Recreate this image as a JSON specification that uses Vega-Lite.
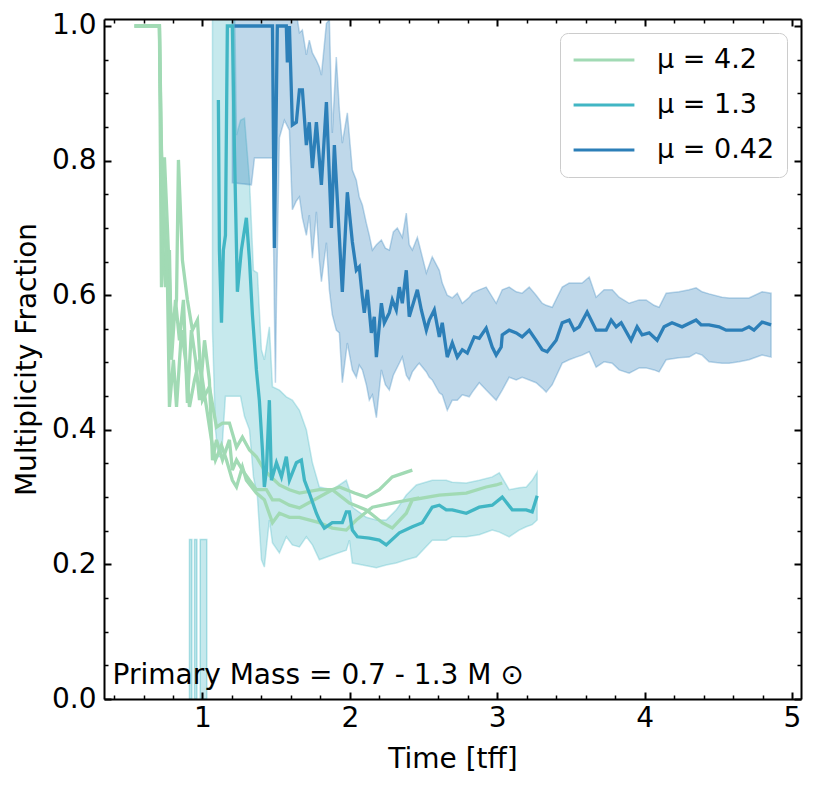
{
  "$schema": "https://vega.github.io/schema/vega-lite/v6.json",
  "width": 697,
  "height": 680,
  "autosize": {"type": "none"},
  "padding": {"left": 104, "top": 19, "right": 18, "bottom": 89},
  "config": {"view": {"stroke": null}, "font": "DejaVu Sans"},
  "resolve": {"axis": {"x": "independent", "y": "independent"}},
  "datasets": {
    "lines": [
      {"mu":"μ = 4.2","run":"g1","t":0.539,"f":1.0},{"mu":"μ = 4.2","run":"g1","t":0.708,"f":1.0},{"mu":"μ = 4.2","run":"g1","t":0.722,"f":0.612},{"mu":"μ = 4.2","run":"g1","t":0.742,"f":0.805},{"mu":"μ = 4.2","run":"g1","t":0.763,"f":0.697},{"mu":"μ = 4.2","run":"g1","t":0.790,"f":0.548},{"mu":"μ = 4.2","run":"g1","t":0.824,"f":0.593},{"mu":"μ = 4.2","run":"g1","t":0.837,"f":0.801},{"mu":"μ = 4.2","run":"g1","t":0.864,"f":0.652},{"mu":"μ = 4.2","run":"g1","t":0.898,"f":0.593},{"mu":"μ = 4.2","run":"g1","t":0.932,"f":0.548},{"mu":"μ = 4.2","run":"g1","t":0.966,"f":0.563},{"mu":"μ = 4.2","run":"g1","t":1.000,"f":0.444},{"mu":"μ = 4.2","run":"g1","t":1.047,"f":0.464},{"mu":"μ = 4.2","run":"g1","t":1.095,"f":0.404},{"mu":"μ = 4.2","run":"g1","t":1.136,"f":0.410},{"mu":"μ = 4.2","run":"g1","t":1.183,"f":0.410},{"mu":"μ = 4.2","run":"g1","t":1.231,"f":0.374},{"mu":"μ = 4.2","run":"g1","t":1.271,"f":0.389},{"mu":"μ = 4.2","run":"g1","t":1.319,"f":0.370},{"mu":"μ = 4.2","run":"g1","t":1.366,"f":0.360},{"mu":"μ = 4.2","run":"g1","t":1.420,"f":0.340},{"mu":"μ = 4.2","run":"g1","t":1.475,"f":0.328},{"mu":"μ = 4.2","run":"g1","t":1.522,"f":0.318},{"mu":"μ = 4.2","run":"g1","t":1.590,"f":0.311},{"mu":"μ = 4.2","run":"g1","t":1.658,"f":0.306},{"mu":"μ = 4.2","run":"g1","t":1.793,"f":0.311},{"mu":"μ = 4.2","run":"g1","t":1.881,"f":0.311},{"mu":"μ = 4.2","run":"g1","t":1.929,"f":0.315},{"mu":"μ = 4.2","run":"g1","t":2.031,"f":0.306},{"mu":"μ = 4.2","run":"g1","t":2.112,"f":0.300},{"mu":"μ = 4.2","run":"g1","t":2.200,"f":0.311},{"mu":"μ = 4.2","run":"g1","t":2.288,"f":0.330},{"mu":"μ = 4.2","run":"g1","t":2.369,"f":0.336},{"mu":"μ = 4.2","run":"g1","t":2.424,"f":0.340},
      {"mu":"μ = 4.2","run":"g2","t":0.539,"f":1.0},{"mu":"μ = 4.2","run":"g2","t":0.708,"f":1.0},{"mu":"μ = 4.2","run":"g2","t":0.729,"f":0.682},{"mu":"μ = 4.2","run":"g2","t":0.749,"f":0.612},{"mu":"μ = 4.2","run":"g2","t":0.776,"f":0.667},{"mu":"μ = 4.2","run":"g2","t":0.790,"f":0.504},{"mu":"μ = 4.2","run":"g2","t":0.817,"f":0.593},{"mu":"μ = 4.2","run":"g2","t":0.844,"f":0.533},{"mu":"μ = 4.2","run":"g2","t":0.871,"f":0.593},{"mu":"μ = 4.2","run":"g2","t":0.898,"f":0.440},{"mu":"μ = 4.2","run":"g2","t":0.925,"f":0.548},{"mu":"μ = 4.2","run":"g2","t":0.953,"f":0.504},{"mu":"μ = 4.2","run":"g2","t":0.980,"f":0.444},{"mu":"μ = 4.2","run":"g2","t":1.014,"f":0.533},{"mu":"μ = 4.2","run":"g2","t":1.047,"f":0.474},{"mu":"μ = 4.2","run":"g2","t":1.068,"f":0.355},{"mu":"μ = 4.2","run":"g2","t":1.095,"f":0.385},{"mu":"μ = 4.2","run":"g2","t":1.136,"f":0.355},{"mu":"μ = 4.2","run":"g2","t":1.183,"f":0.385},{"mu":"μ = 4.2","run":"g2","t":1.203,"f":0.340},{"mu":"μ = 4.2","run":"g2","t":1.231,"f":0.355},{"mu":"μ = 4.2","run":"g2","t":1.271,"f":0.340},{"mu":"μ = 4.2","run":"g2","t":1.319,"f":0.325},{"mu":"μ = 4.2","run":"g2","t":1.366,"f":0.311},{"mu":"μ = 4.2","run":"g2","t":1.434,"f":0.311},{"mu":"μ = 4.2","run":"g2","t":1.475,"f":0.296},{"mu":"μ = 4.2","run":"g2","t":1.522,"f":0.296},{"mu":"μ = 4.2","run":"g2","t":1.590,"f":0.288},{"mu":"μ = 4.2","run":"g2","t":1.658,"f":0.284},{"mu":"μ = 4.2","run":"g2","t":1.759,"f":0.296},{"mu":"μ = 4.2","run":"g2","t":1.881,"f":0.311},{"mu":"μ = 4.2","run":"g2","t":1.997,"f":0.291},{"mu":"μ = 4.2","run":"g2","t":2.112,"f":0.281},{"mu":"μ = 4.2","run":"g2","t":2.220,"f":0.262},{"mu":"μ = 4.2","run":"g2","t":2.288,"f":0.254},{"mu":"μ = 4.2","run":"g2","t":2.383,"f":0.276},{"mu":"μ = 4.2","run":"g2","t":2.424,"f":0.296},{"mu":"μ = 4.2","run":"g2","t":2.607,"f":0.303},{"mu":"μ = 4.2","run":"g2","t":2.790,"f":0.306},{"mu":"μ = 4.2","run":"g2","t":2.925,"f":0.315},{"mu":"μ = 4.2","run":"g2","t":2.993,"f":0.318},{"mu":"μ = 4.2","run":"g2","t":3.034,"f":0.321},
      {"mu":"μ = 4.2","run":"g3","t":0.539,"f":1.0},{"mu":"μ = 4.2","run":"g3","t":0.708,"f":1.0},{"mu":"μ = 4.2","run":"g3","t":0.722,"f":0.816},{"mu":"μ = 4.2","run":"g3","t":0.736,"f":0.741},{"mu":"μ = 4.2","run":"g3","t":0.763,"f":0.612},{"mu":"μ = 4.2","run":"g3","t":0.776,"f":0.434},{"mu":"μ = 4.2","run":"g3","t":0.803,"f":0.504},{"mu":"μ = 4.2","run":"g3","t":0.824,"f":0.434},{"mu":"μ = 4.2","run":"g3","t":0.858,"f":0.548},{"mu":"μ = 4.2","run":"g3","t":0.885,"f":0.504},{"mu":"μ = 4.2","run":"g3","t":0.912,"f":0.434},{"mu":"μ = 4.2","run":"g3","t":0.946,"f":0.474},{"mu":"μ = 4.2","run":"g3","t":0.980,"f":0.504},{"mu":"μ = 4.2","run":"g3","t":1.020,"f":0.444},{"mu":"μ = 4.2","run":"g3","t":1.061,"f":0.385},{"mu":"μ = 4.2","run":"g3","t":1.088,"f":0.355},{"mu":"μ = 4.2","run":"g3","t":1.129,"f":0.377},{"mu":"μ = 4.2","run":"g3","t":1.163,"f":0.355},{"mu":"μ = 4.2","run":"g3","t":1.203,"f":0.325},{"mu":"μ = 4.2","run":"g3","t":1.231,"f":0.315},{"mu":"μ = 4.2","run":"g3","t":1.271,"f":0.345},{"mu":"μ = 4.2","run":"g3","t":1.298,"f":0.325},{"mu":"μ = 4.2","run":"g3","t":1.366,"f":0.306},{"mu":"μ = 4.2","run":"g3","t":1.420,"f":0.296},{"mu":"μ = 4.2","run":"g3","t":1.475,"f":0.262},{"mu":"μ = 4.2","run":"g3","t":1.522,"f":0.276},{"mu":"μ = 4.2","run":"g3","t":1.590,"f":0.270},{"mu":"μ = 4.2","run":"g3","t":1.658,"f":0.270},{"mu":"μ = 4.2","run":"g3","t":1.793,"f":0.262},{"mu":"μ = 4.2","run":"g3","t":1.881,"f":0.254},{"mu":"μ = 4.2","run":"g3","t":1.976,"f":0.251},{"mu":"μ = 4.2","run":"g3","t":2.044,"f":0.266},{"mu":"μ = 4.2","run":"g3","t":2.153,"f":0.285},{"mu":"μ = 4.2","run":"g3","t":2.288,"f":0.291},{"mu":"μ = 4.2","run":"g3","t":2.403,"f":0.296},{"mu":"μ = 4.2","run":"g3","t":2.471,"f":0.299},
      {"mu":"μ = 1.3","run":"c","t":1.108,"f":0.890},{"mu":"μ = 1.3","run":"c","t":1.115,"f":0.667},{"mu":"μ = 1.3","run":"c","t":1.129,"f":0.559},{"mu":"μ = 1.3","run":"c","t":1.142,"f":0.667},{"mu":"μ = 1.3","run":"c","t":1.156,"f":0.689},{"mu":"μ = 1.3","run":"c","t":1.169,"f":1.0},{"mu":"μ = 1.3","run":"c","t":1.203,"f":1.0},{"mu":"μ = 1.3","run":"c","t":1.217,"f":0.816},{"mu":"μ = 1.3","run":"c","t":1.237,"f":0.605},{"mu":"μ = 1.3","run":"c","t":1.264,"f":0.667},{"mu":"μ = 1.3","run":"c","t":1.298,"f":0.715},{"mu":"μ = 1.3","run":"c","t":1.319,"f":0.652},{"mu":"μ = 1.3","run":"c","t":1.339,"f":0.571},{"mu":"μ = 1.3","run":"c","t":1.366,"f":0.489},{"mu":"μ = 1.3","run":"c","t":1.386,"f":0.444},{"mu":"μ = 1.3","run":"c","t":1.407,"f":0.370},{"mu":"μ = 1.3","run":"c","t":1.420,"f":0.315},{"mu":"μ = 1.3","run":"c","t":1.434,"f":0.340},{"mu":"μ = 1.3","run":"c","t":1.454,"f":0.444},{"mu":"μ = 1.3","run":"c","t":1.468,"f":0.325},{"mu":"μ = 1.3","run":"c","t":1.502,"f":0.351},{"mu":"μ = 1.3","run":"c","t":1.536,"f":0.330},{"mu":"μ = 1.3","run":"c","t":1.569,"f":0.360},{"mu":"μ = 1.3","run":"c","t":1.590,"f":0.325},{"mu":"μ = 1.3","run":"c","t":1.637,"f":0.351},{"mu":"μ = 1.3","run":"c","t":1.671,"f":0.355},{"mu":"μ = 1.3","run":"c","t":1.692,"f":0.325},{"mu":"μ = 1.3","run":"c","t":1.725,"f":0.306},{"mu":"μ = 1.3","run":"c","t":1.773,"f":0.276},{"mu":"μ = 1.3","run":"c","t":1.793,"f":0.266},{"mu":"μ = 1.3","run":"c","t":1.827,"f":0.254},{"mu":"μ = 1.3","run":"c","t":1.881,"f":0.262},{"mu":"μ = 1.3","run":"c","t":1.949,"f":0.262},{"mu":"μ = 1.3","run":"c","t":1.976,"f":0.278},{"mu":"μ = 1.3","run":"c","t":1.997,"f":0.278},{"mu":"μ = 1.3","run":"c","t":2.017,"f":0.251},{"mu":"μ = 1.3","run":"c","t":2.051,"f":0.241},{"mu":"μ = 1.3","run":"c","t":2.132,"f":0.239},{"mu":"μ = 1.3","run":"c","t":2.200,"f":0.236},{"mu":"μ = 1.3","run":"c","t":2.247,"f":0.229},{"mu":"μ = 1.3","run":"c","t":2.336,"f":0.247},{"mu":"μ = 1.3","run":"c","t":2.424,"f":0.256},{"mu":"μ = 1.3","run":"c","t":2.492,"f":0.262},{"mu":"μ = 1.3","run":"c","t":2.559,"f":0.285},{"mu":"μ = 1.3","run":"c","t":2.607,"f":0.288},{"mu":"μ = 1.3","run":"c","t":2.654,"f":0.281},{"mu":"μ = 1.3","run":"c","t":2.695,"f":0.281},{"mu":"μ = 1.3","run":"c","t":2.790,"f":0.276},{"mu":"μ = 1.3","run":"c","t":2.878,"f":0.285},{"mu":"μ = 1.3","run":"c","t":2.966,"f":0.288},{"mu":"μ = 1.3","run":"c","t":3.034,"f":0.300},{"mu":"μ = 1.3","run":"c","t":3.102,"f":0.281},{"mu":"μ = 1.3","run":"c","t":3.197,"f":0.281},{"mu":"μ = 1.3","run":"c","t":3.237,"f":0.278},{"mu":"μ = 1.3","run":"c","t":3.271,"f":0.302},
      {"mu":"μ = 0.42","run":"b","t":1.217,"f":1.0},{"mu":"μ = 0.42","run":"b","t":1.475,"f":1.0},{"mu":"μ = 0.42","run":"b","t":1.488,"f":0.670},{"mu":"μ = 0.42","run":"b","t":1.508,"f":1.0},{"mu":"μ = 0.42","run":"b","t":1.569,"f":1.0},{"mu":"μ = 0.42","run":"b","t":1.576,"f":0.946},{"mu":"μ = 0.42","run":"b","t":1.590,"f":1.0},{"mu":"μ = 0.42","run":"b","t":1.610,"f":0.853},{"mu":"μ = 0.42","run":"b","t":1.637,"f":0.857},{"mu":"μ = 0.42","run":"b","t":1.658,"f":0.905},{"mu":"μ = 0.42","run":"b","t":1.678,"f":0.905},{"mu":"μ = 0.42","run":"b","t":1.705,"f":0.823},{"mu":"μ = 0.42","run":"b","t":1.725,"f":0.857},{"mu":"μ = 0.42","run":"b","t":1.746,"f":0.789},{"mu":"μ = 0.42","run":"b","t":1.773,"f":0.857},{"mu":"μ = 0.42","run":"b","t":1.807,"f":0.764},{"mu":"μ = 0.42","run":"b","t":1.841,"f":0.887},{"mu":"μ = 0.42","run":"b","t":1.875,"f":0.700},{"mu":"μ = 0.42","run":"b","t":1.895,"f":0.823},{"mu":"μ = 0.42","run":"b","t":1.949,"f":0.605},{"mu":"μ = 0.42","run":"b","t":1.983,"f":0.753},{"mu":"μ = 0.42","run":"b","t":2.017,"f":0.679},{"mu":"μ = 0.42","run":"b","t":2.044,"f":0.637},{"mu":"μ = 0.42","run":"b","t":2.064,"f":0.642},{"mu":"μ = 0.42","run":"b","t":2.085,"f":0.597},{"mu":"μ = 0.42","run":"b","t":2.098,"f":0.574},{"mu":"μ = 0.42","run":"b","t":2.119,"f":0.608},{"mu":"μ = 0.42","run":"b","t":2.146,"f":0.544},{"mu":"μ = 0.42","run":"b","t":2.166,"f":0.568},{"mu":"μ = 0.42","run":"b","t":2.180,"f":0.508},{"mu":"μ = 0.42","run":"b","t":2.214,"f":0.588},{"mu":"μ = 0.42","run":"b","t":2.234,"f":0.559},{"mu":"μ = 0.42","run":"b","t":2.268,"f":0.574},{"mu":"μ = 0.42","run":"b","t":2.288,"f":0.593},{"mu":"μ = 0.42","run":"b","t":2.315,"f":0.578},{"mu":"μ = 0.42","run":"b","t":2.336,"f":0.612},{"mu":"μ = 0.42","run":"b","t":2.356,"f":0.588},{"mu":"μ = 0.42","run":"b","t":2.383,"f":0.637},{"mu":"μ = 0.42","run":"b","t":2.403,"f":0.568},{"mu":"μ = 0.42","run":"b","t":2.458,"f":0.608},{"mu":"μ = 0.42","run":"b","t":2.485,"f":0.578},{"mu":"μ = 0.42","run":"b","t":2.519,"f":0.548},{"mu":"μ = 0.42","run":"b","t":2.539,"f":0.563},{"mu":"μ = 0.42","run":"b","t":2.573,"f":0.578},{"mu":"μ = 0.42","run":"b","t":2.607,"f":0.538},{"mu":"μ = 0.42","run":"b","t":2.627,"f":0.559},{"mu":"μ = 0.42","run":"b","t":2.661,"f":0.508},{"mu":"μ = 0.42","run":"b","t":2.695,"f":0.529},{"mu":"μ = 0.42","run":"b","t":2.729,"f":0.508},{"mu":"μ = 0.42","run":"b","t":2.763,"f":0.519},{"mu":"μ = 0.42","run":"b","t":2.797,"f":0.514},{"mu":"μ = 0.42","run":"b","t":2.844,"f":0.538},{"mu":"μ = 0.42","run":"b","t":2.878,"f":0.536},{"mu":"μ = 0.42","run":"b","t":2.925,"f":0.551},{"mu":"μ = 0.42","run":"b","t":2.966,"f":0.523},{"mu":"μ = 0.42","run":"b","t":2.993,"f":0.511},{"mu":"μ = 0.42","run":"b","t":3.027,"f":0.523},{"mu":"μ = 0.42","run":"b","t":3.034,"f":0.541},{"mu":"μ = 0.42","run":"b","t":3.081,"f":0.548},{"mu":"μ = 0.42","run":"b","t":3.129,"f":0.544},{"mu":"μ = 0.42","run":"b","t":3.169,"f":0.538},{"mu":"μ = 0.42","run":"b","t":3.217,"f":0.548},{"mu":"μ = 0.42","run":"b","t":3.264,"f":0.533},{"mu":"μ = 0.42","run":"b","t":3.305,"f":0.519},{"mu":"μ = 0.42","run":"b","t":3.339,"f":0.516},{"mu":"μ = 0.42","run":"b","t":3.400,"f":0.533},{"mu":"μ = 0.42","run":"b","t":3.441,"f":0.559},{"mu":"μ = 0.42","run":"b","t":3.488,"f":0.563},{"mu":"μ = 0.42","run":"b","t":3.522,"f":0.548},{"mu":"μ = 0.42","run":"b","t":3.556,"f":0.553},{"mu":"μ = 0.42","run":"b","t":3.610,"f":0.575},{"mu":"μ = 0.42","run":"b","t":3.671,"f":0.548},{"mu":"μ = 0.42","run":"b","t":3.739,"f":0.548},{"mu":"μ = 0.42","run":"b","t":3.773,"f":0.563},{"mu":"μ = 0.42","run":"b","t":3.807,"f":0.553},{"mu":"μ = 0.42","run":"b","t":3.841,"f":0.559},{"mu":"μ = 0.42","run":"b","t":3.908,"f":0.533},{"mu":"μ = 0.42","run":"b","t":3.949,"f":0.553},{"mu":"μ = 0.42","run":"b","t":3.983,"f":0.541},{"mu":"μ = 0.42","run":"b","t":4.031,"f":0.544},{"mu":"μ = 0.42","run":"b","t":4.085,"f":0.533},{"mu":"μ = 0.42","run":"b","t":4.132,"f":0.553},{"mu":"μ = 0.42","run":"b","t":4.186,"f":0.559},{"mu":"μ = 0.42","run":"b","t":4.254,"f":0.553},{"mu":"μ = 0.42","run":"b","t":4.349,"f":0.563},{"mu":"μ = 0.42","run":"b","t":4.383,"f":0.556},{"mu":"μ = 0.42","run":"b","t":4.437,"f":0.556},{"mu":"μ = 0.42","run":"b","t":4.505,"f":0.553},{"mu":"μ = 0.42","run":"b","t":4.553,"f":0.548},{"mu":"μ = 0.42","run":"b","t":4.661,"f":0.548},{"mu":"μ = 0.42","run":"b","t":4.708,"f":0.553},{"mu":"μ = 0.42","run":"b","t":4.742,"f":0.548},{"mu":"μ = 0.42","run":"b","t":4.797,"f":0.560},{"mu":"μ = 0.42","run":"b","t":4.858,"f":0.556}
    ],
    "bands": [
      {"mu":"μ = 1.3","t":1.068,"lo":0.548,"hi":1.05},{"mu":"μ = 1.3","t":1.088,"lo":0.40,"hi":1.05},{"mu":"μ = 1.3","t":1.108,"lo":0.36,"hi":1.05},{"mu":"μ = 1.3","t":1.129,"lo":0.36,"hi":1.05},{"mu":"μ = 1.3","t":1.156,"lo":0.45,"hi":1.05},{"mu":"μ = 1.3","t":1.183,"lo":0.45,"hi":1.05},{"mu":"μ = 1.3","t":1.217,"lo":0.45,"hi":1.05},{"mu":"μ = 1.3","t":1.231,"lo":0.45,"hi":0.838},{"mu":"μ = 1.3","t":1.258,"lo":0.45,"hi":0.860},{"mu":"μ = 1.3","t":1.285,"lo":0.42,"hi":0.863},{"mu":"μ = 1.3","t":1.319,"lo":0.40,"hi":0.771},{"mu":"μ = 1.3","t":1.346,"lo":0.33,"hi":0.637},{"mu":"μ = 1.3","t":1.373,"lo":0.30,"hi":0.633},{"mu":"μ = 1.3","t":1.400,"lo":0.207,"hi":0.519},{"mu":"μ = 1.3","t":1.420,"lo":0.196,"hi":0.504},{"mu":"μ = 1.3","t":1.454,"lo":0.266,"hi":0.553},{"mu":"μ = 1.3","t":1.475,"lo":0.232,"hi":0.464},{"mu":"μ = 1.3","t":1.522,"lo":0.217,"hi":0.459},{"mu":"μ = 1.3","t":1.569,"lo":0.241,"hi":0.449},{"mu":"μ = 1.3","t":1.610,"lo":0.229,"hi":0.444},{"mu":"μ = 1.3","t":1.658,"lo":0.226,"hi":0.429},{"mu":"μ = 1.3","t":1.705,"lo":0.241,"hi":0.400},{"mu":"μ = 1.3","t":1.746,"lo":0.229,"hi":0.351},{"mu":"μ = 1.3","t":1.793,"lo":0.207,"hi":0.315},{"mu":"μ = 1.3","t":1.881,"lo":0.214,"hi":0.311},{"mu":"μ = 1.3","t":1.976,"lo":0.221,"hi":0.325},{"mu":"μ = 1.3","t":1.997,"lo":0.236,"hi":0.311},{"mu":"μ = 1.3","t":2.017,"lo":0.202,"hi":0.285},{"mu":"μ = 1.3","t":2.112,"lo":0.198,"hi":0.270},{"mu":"μ = 1.3","t":2.180,"lo":0.195,"hi":0.266},{"mu":"μ = 1.3","t":2.247,"lo":0.199,"hi":0.266},{"mu":"μ = 1.3","t":2.315,"lo":0.202,"hi":0.281},{"mu":"μ = 1.3","t":2.383,"lo":0.207,"hi":0.303},{"mu":"μ = 1.3","t":2.451,"lo":0.211,"hi":0.318},{"mu":"μ = 1.3","t":2.559,"lo":0.236,"hi":0.325},{"mu":"μ = 1.3","t":2.654,"lo":0.236,"hi":0.325},{"mu":"μ = 1.3","t":2.695,"lo":0.241,"hi":0.322},{"mu":"μ = 1.3","t":2.790,"lo":0.241,"hi":0.321},{"mu":"μ = 1.3","t":2.878,"lo":0.244,"hi":0.325},{"mu":"μ = 1.3","t":2.966,"lo":0.251,"hi":0.330},{"mu":"μ = 1.3","t":3.014,"lo":0.248,"hi":0.336},{"mu":"μ = 1.3","t":3.081,"lo":0.241,"hi":0.311},{"mu":"μ = 1.3","t":3.149,"lo":0.251,"hi":0.314},{"mu":"μ = 1.3","t":3.197,"lo":0.256,"hi":0.315},{"mu":"μ = 1.3","t":3.237,"lo":0.259,"hi":0.325},{"mu":"μ = 1.3","t":3.271,"lo":0.266,"hi":0.337},
      {"mu":"μ = 0.42","t":1.203,"lo":0.767,"hi":1.05},{"mu":"μ = 0.42","t":1.332,"lo":0.764,"hi":1.05},{"mu":"μ = 0.42","t":1.353,"lo":0.804,"hi":1.05},{"mu":"μ = 0.42","t":1.475,"lo":0.804,"hi":1.05},{"mu":"μ = 0.42","t":1.488,"lo":0.578,"hi":1.05},{"mu":"μ = 0.42","t":1.495,"lo":0.470,"hi":1.05},{"mu":"μ = 0.42","t":1.502,"lo":0.593,"hi":1.05},{"mu":"μ = 0.42","t":1.522,"lo":0.834,"hi":1.05},{"mu":"μ = 0.42","t":1.556,"lo":0.860,"hi":1.05},{"mu":"μ = 0.42","t":1.590,"lo":0.845,"hi":1.05},{"mu":"μ = 0.42","t":1.610,"lo":0.727,"hi":1.05},{"mu":"μ = 0.42","t":1.637,"lo":0.740,"hi":1.02},{"mu":"μ = 0.42","t":1.658,"lo":0.746,"hi":0.990},{"mu":"μ = 0.42","t":1.678,"lo":0.715,"hi":0.994},{"mu":"μ = 0.42","t":1.705,"lo":0.689,"hi":0.957},{"mu":"μ = 0.42","t":1.725,"lo":0.719,"hi":0.979},{"mu":"μ = 0.42","t":1.746,"lo":0.655,"hi":0.960},{"mu":"μ = 0.42","t":1.773,"lo":0.724,"hi":0.949},{"mu":"μ = 0.42","t":1.793,"lo":0.652,"hi":0.939},{"mu":"μ = 0.42","t":1.807,"lo":0.620,"hi":0.927},{"mu":"μ = 0.42","t":1.841,"lo":0.678,"hi":1.004},{"mu":"μ = 0.42","t":1.861,"lo":0.608,"hi":1.009},{"mu":"μ = 0.42","t":1.881,"lo":0.571,"hi":0.841},{"mu":"μ = 0.42","t":1.908,"lo":0.548,"hi":0.954},{"mu":"μ = 0.42","t":1.929,"lo":0.544,"hi":0.875},{"mu":"μ = 0.42","t":1.949,"lo":0.470,"hi":0.826},{"mu":"μ = 0.42","t":1.983,"lo":0.529,"hi":0.871},{"mu":"μ = 0.42","t":2.017,"lo":0.489,"hi":0.786},{"mu":"μ = 0.42","t":2.044,"lo":0.478,"hi":0.771},{"mu":"μ = 0.42","t":2.064,"lo":0.496,"hi":0.746},{"mu":"μ = 0.42","t":2.085,"lo":0.489,"hi":0.734},{"mu":"μ = 0.42","t":2.112,"lo":0.467,"hi":0.707},{"mu":"μ = 0.42","t":2.132,"lo":0.444,"hi":0.689},{"mu":"μ = 0.42","t":2.153,"lo":0.452,"hi":0.667},{"mu":"μ = 0.42","t":2.180,"lo":0.418,"hi":0.675},{"mu":"μ = 0.42","t":2.214,"lo":0.489,"hi":0.682},{"mu":"μ = 0.42","t":2.241,"lo":0.467,"hi":0.670},{"mu":"μ = 0.42","t":2.268,"lo":0.459,"hi":0.667},{"mu":"μ = 0.42","t":2.295,"lo":0.481,"hi":0.694},{"mu":"μ = 0.42","t":2.322,"lo":0.493,"hi":0.700},{"mu":"μ = 0.42","t":2.356,"lo":0.508,"hi":0.686},{"mu":"μ = 0.42","t":2.383,"lo":0.481,"hi":0.722},{"mu":"μ = 0.42","t":2.403,"lo":0.474,"hi":0.675},{"mu":"μ = 0.42","t":2.424,"lo":0.486,"hi":0.667},{"mu":"μ = 0.42","t":2.458,"lo":0.496,"hi":0.686},{"mu":"μ = 0.42","t":2.471,"lo":0.499,"hi":0.675},{"mu":"μ = 0.42","t":2.519,"lo":0.486,"hi":0.633},{"mu":"μ = 0.42","t":2.539,"lo":0.478,"hi":0.645},{"mu":"μ = 0.42","t":2.559,"lo":0.474,"hi":0.657},{"mu":"μ = 0.42","t":2.607,"lo":0.455,"hi":0.637},{"mu":"μ = 0.42","t":2.627,"lo":0.452,"hi":0.618},{"mu":"μ = 0.42","t":2.661,"lo":0.429,"hi":0.600},{"mu":"μ = 0.42","t":2.695,"lo":0.444,"hi":0.596},{"mu":"μ = 0.42","t":2.729,"lo":0.444,"hi":0.603},{"mu":"μ = 0.42","t":2.763,"lo":0.452,"hi":0.588},{"mu":"μ = 0.42","t":2.810,"lo":0.449,"hi":0.597},{"mu":"μ = 0.42","t":2.831,"lo":0.456,"hi":0.603},{"mu":"μ = 0.42","t":2.878,"lo":0.470,"hi":0.608},{"mu":"μ = 0.42","t":2.925,"lo":0.459,"hi":0.612},{"mu":"μ = 0.42","t":2.993,"lo":0.444,"hi":0.588},{"mu":"μ = 0.42","t":3.034,"lo":0.459,"hi":0.608},{"mu":"μ = 0.42","t":3.081,"lo":0.478,"hi":0.612},{"mu":"μ = 0.42","t":3.129,"lo":0.474,"hi":0.605},{"mu":"μ = 0.42","t":3.169,"lo":0.478,"hi":0.603},{"mu":"μ = 0.42","t":3.217,"lo":0.474,"hi":0.612},{"mu":"μ = 0.42","t":3.264,"lo":0.470,"hi":0.600},{"mu":"μ = 0.42","t":3.305,"lo":0.462,"hi":0.588},{"mu":"μ = 0.42","t":3.332,"lo":0.456,"hi":0.585},{"mu":"μ = 0.42","t":3.373,"lo":0.467,"hi":0.582},{"mu":"μ = 0.42","t":3.441,"lo":0.499,"hi":0.612},{"mu":"μ = 0.42","t":3.488,"lo":0.504,"hi":0.618},{"mu":"μ = 0.42","t":3.536,"lo":0.508,"hi":0.618},{"mu":"μ = 0.42","t":3.576,"lo":0.511,"hi":0.618},{"mu":"μ = 0.42","t":3.624,"lo":0.516,"hi":0.627},{"mu":"μ = 0.42","t":3.671,"lo":0.493,"hi":0.597},{"mu":"μ = 0.42","t":3.725,"lo":0.501,"hi":0.608},{"mu":"μ = 0.42","t":3.780,"lo":0.499,"hi":0.608},{"mu":"μ = 0.42","t":3.827,"lo":0.489,"hi":0.597},{"mu":"μ = 0.42","t":3.895,"lo":0.484,"hi":0.588},{"mu":"μ = 0.42","t":3.963,"lo":0.492,"hi":0.593},{"mu":"μ = 0.42","t":4.010,"lo":0.492,"hi":0.593},{"mu":"μ = 0.42","t":4.064,"lo":0.489,"hi":0.585},{"mu":"μ = 0.42","t":4.098,"lo":0.486,"hi":0.582},{"mu":"μ = 0.42","t":4.146,"lo":0.504,"hi":0.603},{"mu":"μ = 0.42","t":4.234,"lo":0.507,"hi":0.605},{"mu":"μ = 0.42","t":4.302,"lo":0.508,"hi":0.608},{"mu":"μ = 0.42","t":4.349,"lo":0.514,"hi":0.611},{"mu":"μ = 0.42","t":4.390,"lo":0.511,"hi":0.605},{"mu":"μ = 0.42","t":4.437,"lo":0.501,"hi":0.602},{"mu":"μ = 0.42","t":4.525,"lo":0.499,"hi":0.597},{"mu":"μ = 0.42","t":4.573,"lo":0.499,"hi":0.596},{"mu":"μ = 0.42","t":4.641,"lo":0.501,"hi":0.596},{"mu":"μ = 0.42","t":4.708,"lo":0.504,"hi":0.596},{"mu":"μ = 0.42","t":4.797,"lo":0.511,"hi":0.605},{"mu":"μ = 0.42","t":4.858,"lo":0.508,"hi":0.603}
    ],
    "slivers": [
      {"t0":0.912,"t1":0.928,"lo":0,"hi":0.237},
      {"t0":0.946,"t1":0.962,"lo":0,"hi":0.237},
      {"t0":0.985,"t1":1.029,"lo":0,"hi":0.237}
    ],
    "note": [
      {"t":0.39,"f":0.022,"label":"Primary Mass = 0.7 - 1.3 M ⊙"}
    ]
  },
  "layer": [
    {
      "data": {"name": "bands"},
      "transform": [{"filter": {"field": "mu", "equal": "μ = 1.3"}}],
      "mark": {"type": "area", "clip": true, "fill": "#41b6c4", "fillOpacity": 0.3, "stroke": "#41b6c4", "strokeOpacity": 0.3, "strokeWidth": 1.5},
      "encoding": {
        "x": {"field": "t", "type": "quantitative", "scale": {"domain": [0.332, 5.061], "nice": false, "zero": false},
          "axis": {"orient": "bottom", "values": [1, 2, 3, 4, 5], "format": "d", "tickSize": -7, "tickWidth": 2, "tickColor": "black", "labelPadding": 12, "labelFontSize": 28, "labelFont": "DejaVu Sans", "labelColor": "black", "labelFlush": false, "domain": true, "domainColor": "black", "domainWidth": 2, "grid": false, "title": "Time [tff]", "titleFontSize": 28, "titleFont": "DejaVu Sans", "titleFontWeight": "normal", "titleColor": "black", "titlePadding": 13, "zindex": 1}},
        "y": {"field": "lo", "type": "quantitative", "scale": {"domain": [0, 1.0104], "nice": false, "zero": false},
          "axis": {"orient": "left", "values": [0, 0.2, 0.4, 0.6, 0.8, 1.0], "format": ".1f", "tickSize": -7, "tickWidth": 2, "tickColor": "black", "labelPadding": 15, "labelFontSize": 28, "labelFont": "DejaVu Sans", "labelColor": "black", "labelFlush": false, "domain": true, "domainColor": "black", "domainWidth": 2, "grid": false, "title": "Multiplicity Fraction", "titleFontSize": 28, "titleFont": "DejaVu Sans", "titleFontWeight": "normal", "titleColor": "black", "titlePadding": 10, "zindex": 1}},
        "y2": {"field": "hi"}
      }
    },
    {
      "data": {"name": "bands"},
      "transform": [{"filter": {"field": "mu", "equal": "μ = 0.42"}}],
      "mark": {"type": "area", "clip": true, "fill": "#2c7fb8", "fillOpacity": 0.3, "stroke": "#2c7fb8", "strokeOpacity": 0.3, "strokeWidth": 1.5},
      "encoding": {
        "x": {"field": "t", "type": "quantitative", "scale": {"domain": [0.332, 5.061], "nice": false, "zero": false},
          "axis": {"orient": "bottom", "values": [0.4, 0.6, 0.8, 1.2, 1.4, 1.6, 1.8, 2.2, 2.4, 2.6, 2.8, 3.2, 3.4, 3.6, 3.8, 4.2, 4.4, 4.6, 4.8], "tickSize": -4, "tickWidth": 1.5, "tickColor": "black", "labels": false, "domain": false, "grid": false, "title": null, "zindex": 1}},
        "y": {"field": "lo", "type": "quantitative", "scale": {"domain": [0, 1.0104], "nice": false, "zero": false},
          "axis": {"orient": "left", "values": [0.05, 0.1, 0.15, 0.25, 0.3, 0.35, 0.45, 0.5, 0.55, 0.65, 0.7, 0.75, 0.85, 0.9, 0.95], "tickSize": -4, "tickWidth": 1.5, "tickColor": "black", "labels": false, "domain": false, "grid": false, "title": null, "zindex": 1}},
        "y2": {"field": "hi"}
      }
    },
    {
      "data": {"name": "slivers"},
      "mark": {"type": "rect", "clip": true, "fill": "#41b6c4", "fillOpacity": 0.3, "stroke": "#41b6c4", "strokeOpacity": 0.4, "strokeWidth": 1.5},
      "encoding": {
        "x": {"field": "t0", "type": "quantitative", "scale": {"domain": [0.332, 5.061], "nice": false, "zero": false},
          "axis": {"orient": "top", "values": [1, 2, 3, 4, 5], "tickSize": -7, "tickWidth": 2, "tickColor": "black", "labels": false, "domain": true, "domainColor": "black", "domainWidth": 2, "grid": false, "title": null, "zindex": 1}},
        "x2": {"field": "t1"},
        "y": {"field": "lo", "type": "quantitative", "scale": {"domain": [0, 1.0104], "nice": false, "zero": false},
          "axis": {"orient": "right", "values": [0, 0.2, 0.4, 0.6, 0.8, 1.0], "tickSize": -7, "tickWidth": 2, "tickColor": "black", "labels": false, "domain": true, "domainColor": "black", "domainWidth": 2, "grid": false, "title": null, "zindex": 1}},
        "y2": {"field": "hi"}
      }
    },
    {
      "data": {"name": "lines"},
      "mark": {"type": "line", "clip": true, "strokeWidth": 3.3},
      "encoding": {
        "x": {"field": "t", "type": "quantitative", "scale": {"domain": [0.332, 5.061], "nice": false, "zero": false}, "axis": null},
        "y": {"field": "f", "type": "quantitative", "scale": {"domain": [0, 1.0104], "nice": false, "zero": false}, "axis": null},
        "detail": {"field": "run"},
        "color": {"field": "mu", "type": "nominal",
          "scale": {"domain": ["μ = 4.2", "μ = 1.3", "μ = 0.42"], "range": ["#a1dab4", "#41b6c4", "#2c7fb8"]},
          "legend": {"title": null, "orient": "top-right", "offset": 14, "symbolType": "stroke", "symbolSize": 3700, "symbolStrokeWidth": 3, "clipHeight": 30, "labelFontSize": 27, "labelFont": "DejaVu Sans", "labelColor": "black", "labelOffset": 21, "labelLimit": 400, "labelExpr": "datum.label + '  '", "padding": 12, "rowPadding": 15, "fillColor": "rgba(255,255,255,0.8)", "strokeColor": "#cccccc", "cornerRadius": 8}}
      }
    },
    {
      "data": {"name": "note"},
      "mark": {"type": "text", "align": "left", "baseline": "alphabetic", "fontSize": 28, "font": "DejaVu Sans", "color": "black"},
      "encoding": {
        "x": {"field": "t", "type": "quantitative", "scale": {"domain": [0.332, 5.061], "nice": false, "zero": false},
          "axis": {"orient": "top", "values": [0.4, 0.6, 0.8, 1.2, 1.4, 1.6, 1.8, 2.2, 2.4, 2.6, 2.8, 3.2, 3.4, 3.6, 3.8, 4.2, 4.4, 4.6, 4.8], "tickSize": -4, "tickWidth": 1.5, "tickColor": "black", "labels": false, "domain": false, "grid": false, "title": null, "zindex": 1}},
        "y": {"field": "f", "type": "quantitative", "scale": {"domain": [0, 1.0104], "nice": false, "zero": false},
          "axis": {"orient": "right", "values": [0.05, 0.1, 0.15, 0.25, 0.3, 0.35, 0.45, 0.5, 0.55, 0.65, 0.7, 0.75, 0.85, 0.9, 0.95], "tickSize": -4, "tickWidth": 1.5, "tickColor": "black", "labels": false, "domain": false, "grid": false, "title": null, "zindex": 1}},
        "text": {"field": "label"}
      }
    }
  ]
}
